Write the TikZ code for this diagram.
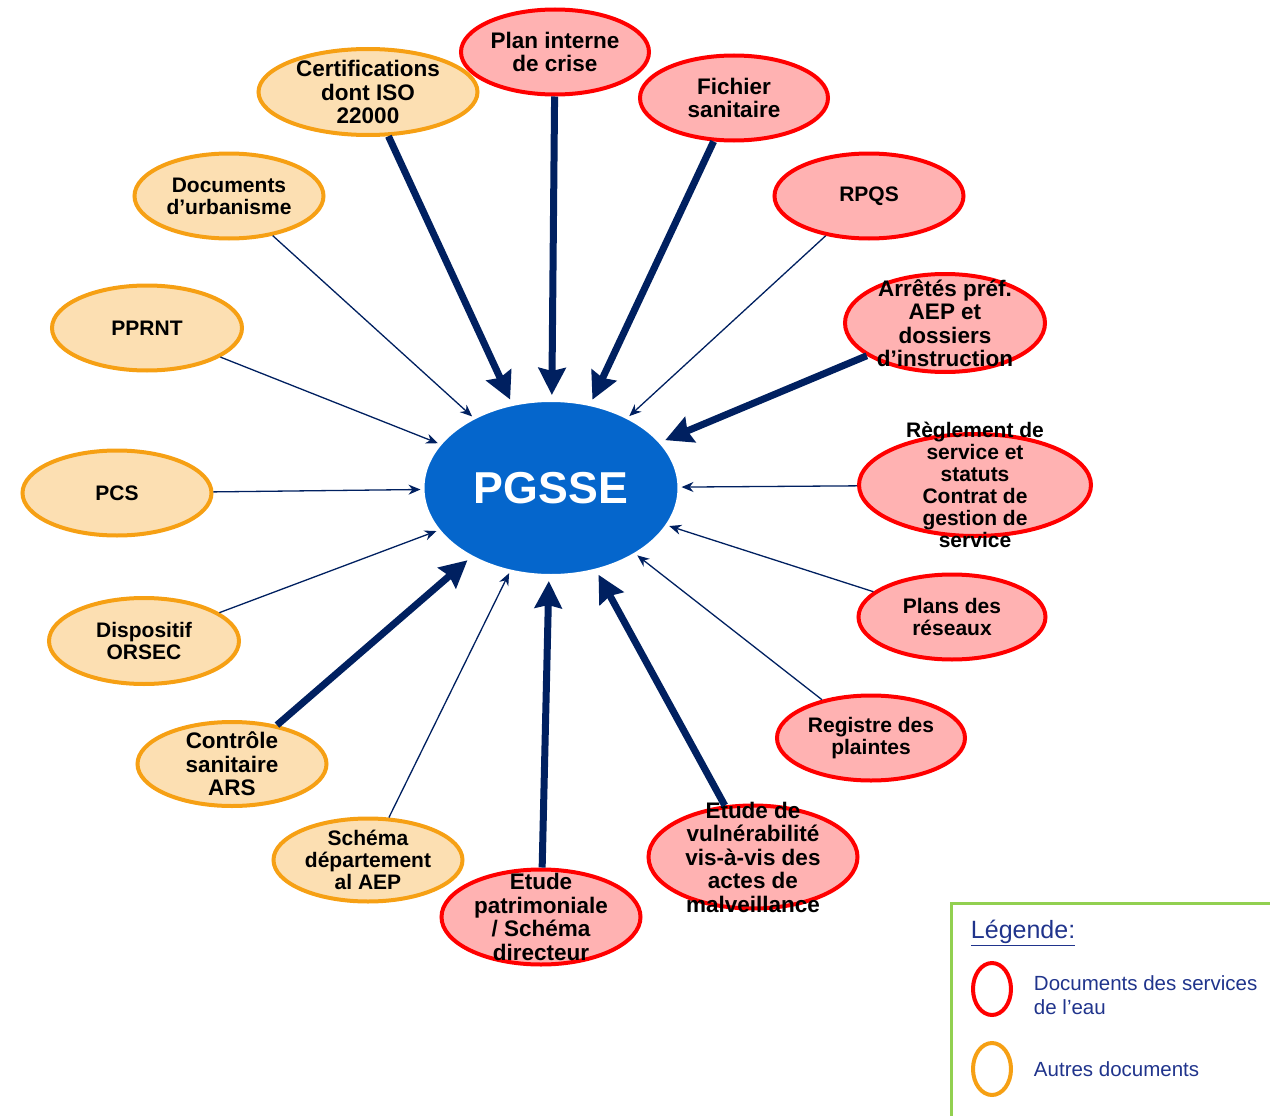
\documentclass[tikz,border=0pt]{standalone}
\usepackage{fontspec}
\setmainfont{Liberation Sans}
\usetikzlibrary{shapes.geometric,arrows.meta}
\definecolor{navy}{RGB}{0,32,96}
\definecolor{redline}{RGB}{255,0,0}
\definecolor{redfill}{RGB}{255,178,178}
\definecolor{orangeline}{RGB}{246,160,20}
\definecolor{orangefill}{RGB}{252,223,178}
\definecolor{pgsseblue}{RGB}{5,102,204}
\definecolor{legendblue}{RGB}{32,52,140}
\definecolor{legendgreen}{RGB}{146,208,80}

\begin{document}
\begin{tikzpicture}[x=1pt,y=-1pt,->,>={Stealth[length=12pt,width=10pt]},
                    line width=1.3pt,draw=navy]
\tikzstyle{eaux}=[ellipse,draw=redline,fill=redfill,line width=4pt,inner sep=0pt]
\tikzstyle{autres}=[ellipse,draw=orangeline,fill=orangefill,line width=4pt,inner sep=0pt]
\tikzstyle{txt}=[align=center,inner sep=0pt,text=black]
\tikzstyle{big}=[font=\fontsize{22.5}{23.5}\selectfont\bfseries]
\tikzstyle{fort}=[line width=7pt,shorten >=5pt,-{Stealth[length=27pt,width=27pt,inset=3pt]}]
\tikzstyle{fin}=[shorten >=2pt]
\tikzset{font=\fontsize{21}{22}\selectfont\bfseries}

        \useasboundingbox (0,0) rectangle (1270,1116);

        % centre
        \node[ellipse,draw=white,fill=pgsseblue,line width=2pt,minimum width=255pt,minimum height=174pt,
              text=white,font=\fontsize{44.7}{48}\selectfont\bfseries]          (pgsse) at (551,488) {PGSSE};

        % documents des services de l'eau
        \node[eaux,minimum width=188pt,minimum height=85pt,label={[txt,big]center:{Plan interne\\de crise}}]       (plan)      at (555,52)  {};
        \node[eaux,minimum width=188pt,minimum height=85pt,label={[txt,big]center:{Fichier\\sanitaire}}]          (fichier)   at (734,98)  {};
        \node[eaux,minimum width=189pt,minimum height=85pt,label={[txt]center:{RPQS}}]                            (rpqs)      at (869,196) {};
        \node[eaux,minimum width=200pt,minimum height=98pt,label={[txt,big]center:{Arrêtés préf.\\AEP et\\dossiers\\d’instruction}}]  (arretes) at (945,323) {};
        \node[eaux,minimum width=232pt,minimum height=102pt,label={[txt]center:{Règlement de\\service et\\statuts\\Contrat de\\gestion de\\service}}] (reglement) at (975,485) {};
        \node[eaux,minimum width=187pt,minimum height=85pt,label={[txt]center:{Plans des\\réseaux}}]              (plans)     at (952,617) {};
        \node[eaux,minimum width=188pt,minimum height=85pt,label={[txt]center:{Registre des\\plaintes}}]          (registre)  at (871,738) {};
        \node[eaux,minimum width=209pt,minimum height=103pt,label={[txt,big]center:{Etude de\\vulnérabilité\\vis-à-vis des\\actes de\\malveillance}}] (vuln) at (753,857) {};
        \node[eaux,minimum width=199pt,minimum height=95pt,label={[txt,big]center:{Etude\\patrimoniale\\/ Schéma\\directeur}}] (patri) at (541,917) {};

        % autres documents
        \node[autres,minimum width=219pt,minimum height=86pt,label={[txt,big]center:{Certifications\\dont ISO\\22000}}] (cert) at (368,92)  {};
        \node[autres,minimum width=189pt,minimum height=85pt,label={[txt]center:{Documents\\d’urbanisme}}]       (urba)      at (229,196) {};
        \node[autres,minimum width=190pt,minimum height=85pt,label={[txt]center:{PPRNT}}]                        (pprnt)     at (147,328) {};
        \node[autres,minimum width=189pt,minimum height=85pt,label={[txt]center:{PCS}}]                          (pcs)       at (117,493) {};
        \node[autres,minimum width=190pt,minimum height=86pt,label={[txt]center:{Dispositif\\ORSEC}}]            (orsec)     at (144,641) {};
        \node[autres,minimum width=189pt,minimum height=84pt,label={[txt,big]center:{Contrôle\\sanitaire\\ARS}}] (controle)  at (232,764) {};
        \node[autres,minimum width=189pt,minimum height=83pt,label={[txt]center:{Schéma\\département\\al AEP}}]  (schema)    at (368,860) {};

        \path[navy]
        (cert)      edge[fort] (pgsse)
        (plan)      edge[fort] (pgsse)
        (fichier)   edge[fort] (pgsse)
        (arretes)   edge[fort] (pgsse)
        (vuln)      edge[fort] (pgsse)
        (patri)     edge[fort] (pgsse)
        (controle)  edge[fort] (pgsse)
        (urba)      edge[fin]  (pgsse)
        (pprnt)     edge[fin]  (pgsse)
        (pcs)       edge[fin]  (pgsse)
        (orsec)     edge[fin]  (pgsse)
        (schema)    edge[fin]  (pgsse)
        (rpqs)      edge[fin]  (pgsse)
        (reglement) edge[fin]  (pgsse)
        (plans)     edge[fin]  (pgsse)
        (registre)  edge[fin]  (pgsse)
        ; %end path

        % legende
        \draw[-,draw=legendgreen,line width=3pt] (951,903) rectangle (1274,1122);
        \node[anchor=west,text=legendblue,font=\fontsize{25}{28}\selectfont]                      (legtitre)  at (967,933)  {\underline{Légende:}};
        \node[ellipse,draw=redline,line width=4pt,minimum width=38pt,minimum height=52pt,inner sep=0pt]   (legeaux)   at (992,989)  {};
        \node[ellipse,draw=orangeline,line width=4pt,minimum width=38pt,minimum height=52pt,inner sep=0pt] (legautres) at (992,1069) {};
        \node[anchor=west,align=left,text=legendblue,font=\fontsize{20.5}{24.5}\selectfont] (txteaux)   at (1030,995)  {Documents des services\\de l’eau};
        \node[anchor=west,text=legendblue,font=\fontsize{20.5}{24.5}\selectfont]            (txtautres) at (1030,1069) {Autres documents};

\end{tikzpicture}
\end{document}
